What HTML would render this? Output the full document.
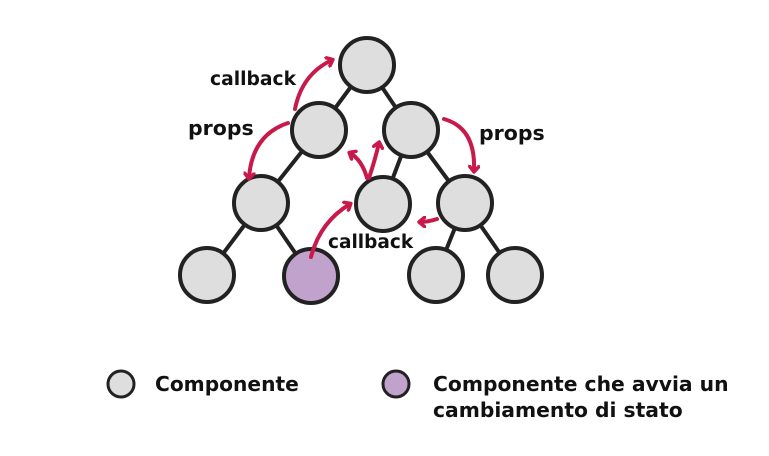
<!DOCTYPE html>
<html><head><style>
body{margin:0;background:#fff;}
svg text{font-family:"DejaVu Sans","Liberation Sans",sans-serif;font-weight:bold;fill:#111;}
</style></head><body>
<svg width="769" height="451" viewBox="0 0 769 451" xmlns="http://www.w3.org/2000/svg">
<defs>
<marker id="ah" markerWidth="10" markerHeight="12" refX="6" refY="6" orient="auto" markerUnits="userSpaceOnUse">
<path d="M1,1 L7,6 L1,11" fill="none" stroke="#c8194b" stroke-width="3.5" stroke-linecap="round" stroke-linejoin="round"/>
</marker>
</defs>
<g stroke="#222" stroke-width="4" fill="none" stroke-linecap="round">
<line x1="367" y1="65" x2="319" y2="130"/>
<line x1="367" y1="65" x2="411" y2="130"/>
<line x1="319" y1="130" x2="261" y2="203"/>
<line x1="411" y1="130" x2="383" y2="204"/>
<line x1="411" y1="130" x2="465" y2="203"/>
<line x1="261" y1="203" x2="207" y2="275"/>
<line x1="261" y1="203" x2="311" y2="276"/>
<line x1="465" y1="203" x2="436" y2="275"/>
<line x1="465" y1="203" x2="515" y2="275"/>
</g>
<g stroke="#222" stroke-width="4" fill="#dedede">
<circle cx="367" cy="65" r="27"/>
<circle cx="319" cy="130" r="27"/>
<circle cx="411" cy="130" r="27"/>
<circle cx="261" cy="203" r="27"/>
<circle cx="383" cy="204" r="27"/>
<circle cx="465" cy="203" r="27"/>
<circle cx="207" cy="275" r="27"/>
<circle cx="311" cy="276" r="27" fill="#c0a2cc"/>
<circle cx="436" cy="275" r="27"/>
<circle cx="515" cy="275" r="27"/>
</g>
<g stroke="#c8194b" stroke-width="4" fill="none" stroke-linecap="round" marker-end="url(#ah)">
<path d="M295,109 Q302,74 332,60"/>
<path d="M288,123 Q252,135 249,178"/>
<path d="M444,119 Q476,128 474,171"/>
<path d="M367,178 Q362,160 350,153"/>
<path d="M369,178 Q375,160 379,143"/>
<path d="M311,257 Q320,222 350,204"/>
<path d="M437,219 Q428,222 420,222"/>
</g>
<text x="210" y="85" font-size="18.7">callback</text>
<text x="188" y="135" font-size="20.5">props</text>
<text x="479" y="140" font-size="20.5">props</text>
<text x="328" y="248" font-size="18.5">callback</text>
<circle cx="121" cy="384" r="13" fill="#dedede" stroke="#222" stroke-width="3"/>
<circle cx="396" cy="384" r="13" fill="#c0a2cc" stroke="#222" stroke-width="3"/>
<text x="155" y="391" font-size="20.2">Componente</text>
<text x="433" y="391" font-size="20.3">Componente che avvia un</text>
<text x="433" y="417" font-size="20.3">cambiamento di stato</text>
</svg>
</body></html>
